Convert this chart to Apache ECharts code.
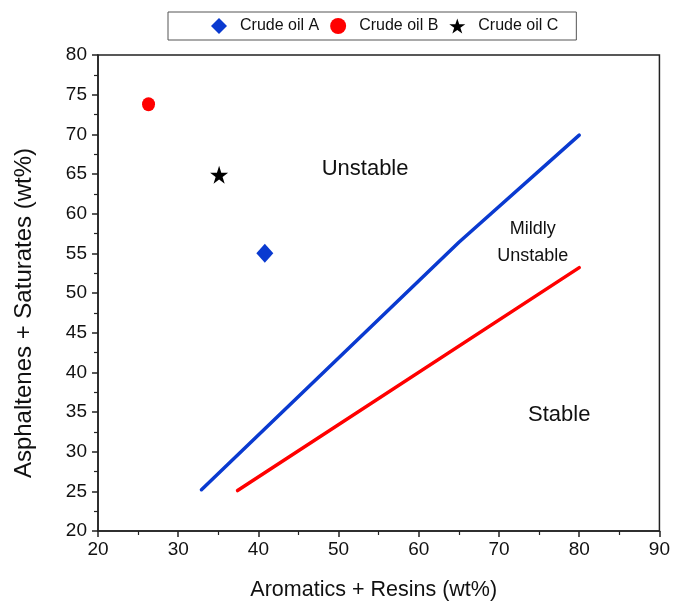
<!DOCTYPE html>
<html>
<head>
<meta charset="utf-8">
<script src="https://cdn.jsdelivr.net/npm/echarts@6/dist/echarts.min.js"></script>
<style>
  html, body { margin: 0; padding: 0; background: #fff; }
  #chart { width: 673px; height: 609px; }
</style>
</head>
<body>
<div id="chart"></div>
<script>
// Sample compositions (Aromatics + Resins, Asphaltenes + Saturates), wt%
const crudeA = [[40.8, 55.0]];
const crudeB = [[26.3, 73.8]];
const crudeC = [[35.1, 64.9]];

// Stability boundary lines
const upperBoundary = [[32.9, 25.2], [65.0, 56.4], [80.0, 69.9]];
const lowerBoundary = [[37.4, 25.1], [80.0, 53.2]];

// Region labels placed in data space
const regionLabels = [
  { name: 'Unstable', value: [53.3, 65.7], size: 22 },
  { name: 'Mildly\nUnstable', value: [74.2, 56.3], size: 18 },
  { name: 'Stable', value: [77.5, 34.6], size: 22 }
];

const xTicks = { min: 20, max: 90, interval: 10 };
const yTicks = { min: 20, max: 80, interval: 5 };

const FONT = '"Liberation Sans", Arial, sans-serif';
const STAR = 'path://M50,0 L61.8,35.1 L98.9,35.1 L68.9,56.8 L80.3,91.9 L50,70.2 L19.7,91.9 L31.1,56.8 L1.1,35.1 L38.2,35.1 Z';
const BLUE = '#0a3ad0';
const RED = '#ff0000';
const INK = '#111111';

const chart = echarts.init(document.getElementById('chart'), null, { renderer: 'canvas' });

chart.setOption({
  backgroundColor: '#ffffff',
  animation: false,
  textStyle: { fontFamily: FONT },
  grid: { left: 98, right: 13, top: 55, bottom: 78, show: true, borderColor: '#222', borderWidth: 1.5, backgroundColor: 'transparent' },
  legend: {
    data: ['Crude oil A', 'Crude oil B', 'Crude oil C'],
    top: 12,
    left: 168,
    padding: [6, 18, 6, 43],
    itemGap: 11,
    itemWidth: 16,
    itemHeight: 16,
    borderColor: '#555',
    borderWidth: 1,
    textStyle: { fontFamily: FONT, fontSize: 16, color: INK, padding: [0, 0, 0, 8] }
  },
  xAxis: {
    type: 'value',
    min: xTicks.min, max: xTicks.max, interval: xTicks.interval,
    name: 'Aromatics + Resins (wt%)',
    nameLocation: 'middle',
    nameGap: 48,
    nameTextStyle: { fontFamily: FONT, fontSize: 21.5, color: INK, padding: [0, 10, 0, 0] },
    axisLine: { show: true, lineStyle: { color: '#222', width: 1.5 } },
    axisTick: { show: true, inside: false, length: 6, lineStyle: { color: '#222', width: 1.5 } },
    minorTick: { show: true, splitNumber: 2, length: 4, lineStyle: { color: '#222', width: 1.2 } },
    axisLabel: { fontFamily: FONT, fontSize: 19, color: INK, margin: 9 },
    splitLine: { show: false }
  },
  yAxis: {
    type: 'value',
    min: yTicks.min, max: yTicks.max, interval: yTicks.interval,
    name: 'Asphaltenes + Saturates (wt%)',
    nameLocation: 'middle',
    nameGap: 62,
    nameRotate: 90,
    nameTextStyle: { fontFamily: FONT, fontSize: 24, color: INK, padding: [0, 40, 0, 0] },
    axisLine: { show: true, lineStyle: { color: '#222', width: 1.5 } },
    axisTick: { show: true, inside: false, length: 6, lineStyle: { color: '#222', width: 1.5 } },
    minorTick: { show: true, splitNumber: 2, length: 4, lineStyle: { color: '#222', width: 1.2 } },
    axisLabel: { fontFamily: FONT, fontSize: 19, color: INK, margin: 11 },
    splitLine: { show: false }
  },
  series: [
    {
      name: 'upper boundary', type: 'line', data: upperBoundary,
      showSymbol: false, symbol: 'none',
      lineStyle: { color: BLUE, width: 3.5, cap: 'round' },
      z: 2
    },
    {
      name: 'lower boundary', type: 'line', data: lowerBoundary,
      showSymbol: false, symbol: 'none',
      lineStyle: { color: RED, width: 3.5, cap: 'round' },
      z: 2
    },
    {
      name: 'Crude oil A', type: 'scatter', data: crudeA,
      symbol: 'diamond', symbolSize: [17, 19],
      itemStyle: { color: BLUE, opacity: 1 }, z: 3
    },
    {
      name: 'Crude oil B', type: 'scatter', data: crudeB,
      symbol: 'circle', symbolSize: [13, 14],
      itemStyle: { color: RED, opacity: 1 }, z: 3
    },
    {
      name: 'Crude oil C', type: 'scatter', data: crudeC,
      symbol: STAR, symbolSize: 18,
      itemStyle: { color: '#000000', opacity: 1 }, z: 3
    },
    {
      name: 'regions', type: 'scatter',
      data: regionLabels.map(d => ({
        name: d.name, value: d.value,
        label: { fontSize: d.size, lineHeight: Math.round(d.size * 1.5) }
      })),
      symbolSize: 0, silent: true,
      itemStyle: { opacity: 1 },
      label: {
        show: true, position: 'inside',
        formatter: p => p.name,
        fontFamily: FONT, color: INK, opacity: 1
      },
      z: 4
    }
  ]
});
</script>
</body>
</html>
